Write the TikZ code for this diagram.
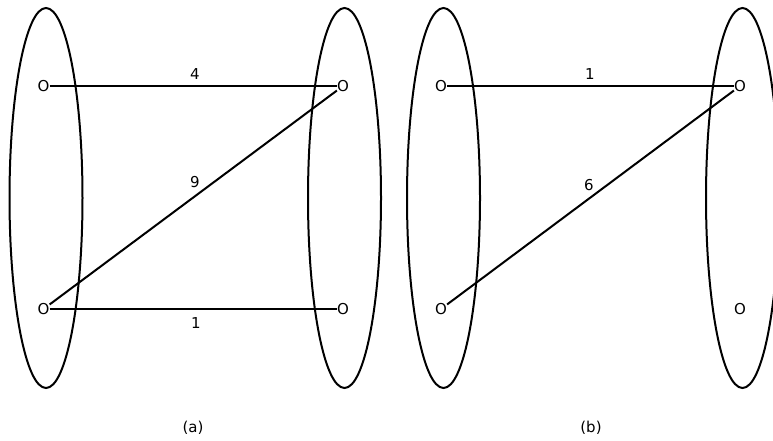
\documentclass[tikz,border=0pt]{standalone}
\usepackage{fontspec}
\setmainfont{DejaVu Sans}
\usetikzlibrary{shapes.geometric}
\tikzset{
  part/.style={ellipse, draw, line width=2pt, minimum width=73pt, minimum height=380pt, inner sep=0pt},
  vtx/.style={inner sep=0pt, font=\fontsize{15}{18}\selectfont},
  edge/.style={line width=2pt},
  lbl/.style={inner sep=0pt, font=\fontsize{15}{18}\selectfont},
}
\begin{document}
\begin{tikzpicture}[x=1pt,y=-1pt]
\useasboundingbox (0,0) rectangle (773,441);
\clip (0,0) rectangle (773,441);
% (a)
\node[part] (La) at (46,198) {};
\node[part] (Ra) at (344.5,198) {};
\node[vtx] (a1) at (43.5,86) {O};
\node[vtx] (a2) at (43.5,309) {O};
\node[vtx] (b1) at (343,86) {O};
\node[vtx] (b2) at (343,309) {O};
\draw[edge] (a1) -- (b1);
\draw[edge] (b1) -- (a2);
\draw[edge] (a2) -- (b2);
\node[lbl] (w1) at (195,74) {4};
\node[lbl] (w2) at (195,182) {9};
\node[lbl] (w3) at (196,323) {1};
\node[lbl] (capa) at (193,428) {(a)};
% (b)
\node[part] (Lb) at (443.5,198) {};
\node[part] (Rb) at (742.5,198) {};
\node[vtx] (c1) at (441,86) {O};
\node[vtx] (c2) at (441,309) {O};
\node[vtx] (d1) at (740,86) {O};
\node[vtx] (d2) at (740,309) {O};
\draw[edge] (c1) -- (d1);
\draw[edge] (d1) -- (c2);
\node[lbl] (v1) at (590,74) {1};
\node[lbl] (v2) at (589,185) {6};
\node[lbl] (capb) at (591,428) {(b)};
\end{tikzpicture}
\end{document}
